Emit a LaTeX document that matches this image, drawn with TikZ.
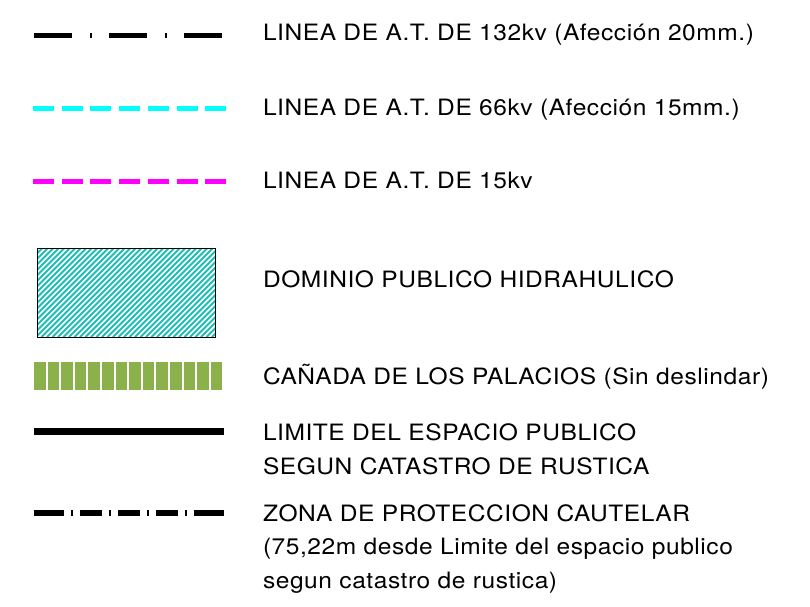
\documentclass[tikz,border=0pt]{standalone}
\usepackage{fontspec}
\setmainfont[FakeStretch=1.09,LetterSpace=2.5]{TeX Gyre Heros}
\definecolor{hatchteal}{RGB}{30,190,182}
\definecolor{canadagreen}{RGB}{139,178,74}
\definecolor{cyanline}{RGB}{0,255,255}
\definecolor{magline}{RGB}{255,0,255}
\begin{document}
\begin{tikzpicture}[x=1pt,y=-1pt,
  lbl/.style={anchor=base west,inner sep=0pt,outer sep=0pt,align=left,
    font=\fontsize{22.5}{33.5}\selectfont},
  shortdash/.style={line width=5pt,dash pattern=on 21pt off 7.7pt}]
\useasboundingbox (0,0) rectangle (810,606);
% 1 - 132kv
\coordinate (a1) at (34,35); \coordinate (b1) at (224,35);
\draw[line width=5pt,dash pattern=on 38pt off 18pt on 2pt off 17pt] (a1) -- (b1);
\node[lbl] (t1) at (263,40) {LINEA DE A.T. DE 132kv (Afección 20mm.)};
% 2 - 66kv
\coordinate (a2) at (33,108); \coordinate (b2) at (227,108);
\draw[shortdash,cyanline] (a2) -- (b2);
\node[lbl] (t2) at (263,115) {LINEA DE A.T. DE 66kv (Afección 15mm.)};
% 3 - 15kv
\coordinate (a3) at (33,181); \coordinate (b3) at (227,181);
\draw[shortdash,magline] (a3) -- (b3);
\node[lbl] (t3) at (263,188) {LINEA DE A.T. DE 15kv};
% 4 - dominio publico hidraulico
\coordinate (r1) at (37,248); \coordinate (r2) at (215,337);
\begin{scope}
  \clip (r1) rectangle (r2);
  \foreach \i in {0,...,50} {
    \draw[hatchteal,line width=2pt] ({37-89+\i*5.5},337) -- ++(89,-89) ;
  }
\end{scope}
\draw[line width=1pt] (r1) rectangle (r2);
\node[lbl] (t4) at (263,287) {DOMINIO PUBLICO HIDRAHULICO};
% 5 - canada
\coordinate (a5) at (34,376); \coordinate (b5) at (224,376);
\draw[canadagreen,line width=28pt,dash pattern=on 11.6pt off 2pt] (a5) -- (b5);
\node[lbl] (t5) at (263,384) {CAÑADA DE LOS PALACIOS (Sin deslindar)};
% 6 - limite
\coordinate (a6) at (34,431); \coordinate (b6) at (224,431);
\draw[line width=7pt] (a6) -- (b6);
\node[lbl] (t6) at (263,474) {LIMITE DEL ESPACIO PUBLICO\\SEGUN CATASTRO DE RUSTICA};
% 7 - zona proteccion
\coordinate (a7) at (34,513); \coordinate (b7) at (224,513);
\draw[line width=6pt,dash pattern=on 30pt off 7pt on 2pt off 7pt on 22pt off 7pt on 2pt off 7pt on 22pt off 7pt on 2pt off 7pt on 22pt off 7pt on 2pt off 7pt on 30pt off 10pt] (a7) -- (b7);
\node[lbl] (t7) at (263,588) {ZONA DE PROTECCION CAUTELAR\\(75,22m desde Limite del espacio publico\\segun catastro de rustica)};
\end{tikzpicture}
\end{document}
